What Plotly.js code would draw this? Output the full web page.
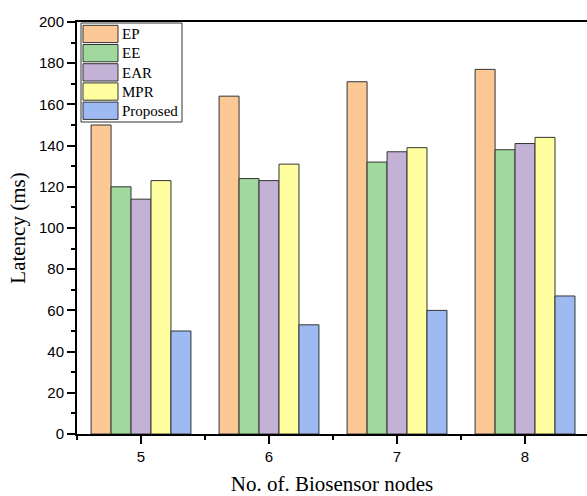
<!DOCTYPE html>
<html>
<head>
<meta charset="utf-8">
<script src="https://cdn.plot.ly/plotly-3.0.1.min.js"></script>
<style>html,body{margin:0;padding:0;background:#fff;}#chart{width:587px;height:496px;}</style>
</head>
<body>
<div id="chart"></div>
<script>
const nodes = [5, 6, 7, 8];
const seriesNames = ["EP", "EE", "EAR", "MPR", "Proposed"];
const EP = [150, 164, 171, 177];
const EE = [120, 124, 132, 138];
const EAR = [114, 123, 137, 141];
const MPR = [123, 131, 139, 144];
const Proposed = [50, 53, 60, 67];
const colors = ["#FCC896", "#A0D89E", "#C3B2D6", "#FFFF9F", "#9DBBF2"];
const values = [EP, EE, EAR, MPR, Proposed];

const serif = "Liberation Serif, Times New Roman, serif";
const sans = "Liberation Sans, Arial, sans-serif";

const traces = values.map((v, i) => ({
  type: "bar",
  name: seriesNames[i],
  x: nodes,
  y: v,
  showlegend: false,
  marker: {color: colors[i], line: {color: "#333333", width: 1}}
}));

// Legend drawn inside plot area (pixel layout -> paper fractions)
const M = {l: 77, r: 0, t: 22, b: 62}, W = 587, H = 496;
const pw = W - M.l - M.r, ph = H - M.t - M.b;
const fx = px => (px - M.l) / pw;
const fy = py => (H - M.b - py) / ph;

const shapes = [];
const annotations = [];
shapes.push({type: "rect", xref: "paper", yref: "paper",
  x0: fx(81), x1: fx(182), y0: fy(122), y1: fy(23),
  fillcolor: "#ffffff", line: {color: "#333333", width: 1}, layer: "above"});
seriesNames.forEach((name, i) => {
  const top = 25.3 + i * 19.2;
  shapes.push({type: "rect", xref: "paper", yref: "paper",
    x0: fx(83), x1: fx(118), y0: fy(top + 17.3), y1: fy(top),
    fillcolor: colors[i], line: {color: "#333333", width: 1}, layer: "above"});
  annotations.push({xref: "paper", yref: "paper", x: fx(120), y: fy(top + 8.8),
    xanchor: "left", yanchor: "middle", showarrow: false, text: name,
    font: {family: serif, size: 15, color: "#000"}});
});

const layout = {
  width: W, height: H,
  margin: M,
  barmode: "group",
  bargap: 0.22,
  bargroupgap: 0,
  paper_bgcolor: "#ffffff",
  plot_bgcolor: "#ffffff",
  showlegend: false,
  shapes: shapes,
  annotations: annotations,
  xaxis: {
    range: [4.5, 8.484],
    tickvals: nodes,
    ticktext: nodes.map(String),
    ticks: "outside", ticklen: 8, tickwidth: 2, tickcolor: "#000",
    minor: {tick0: 4.5, dtick: 1, ticks: "outside", ticklen: 4, tickwidth: 2, tickcolor: "#000"},
    showline: true, linecolor: "#000", linewidth: 2, mirror: true,
    showgrid: false, zeroline: false,
    tickfont: {family: sans, size: 15, color: "#000"},
    title: {text: "No. of. Biosensor nodes", standoff: 12,
      font: {family: serif, size: 21, color: "#000"}}
  },
  yaxis: {
    range: [0, 200],
    dtick: 20, tick0: 0,
    ticks: "outside", ticklen: 8, tickwidth: 2, tickcolor: "#000",
    minor: {dtick: 10, ticks: "outside", ticklen: 4, tickwidth: 2, tickcolor: "#000"},
    showline: true, linecolor: "#000", linewidth: 2,
    showgrid: false, zeroline: false,
    tickfont: {family: sans, size: 15, color: "#000"},
    title: {text: "Latency (ms)", standoff: 8,
      font: {family: serif, size: 21, color: "#000"}}
  }
};

Plotly.newPlot("chart", traces, layout, {displayModeBar: false, staticPlot: true});
</script>
</body>
</html>
